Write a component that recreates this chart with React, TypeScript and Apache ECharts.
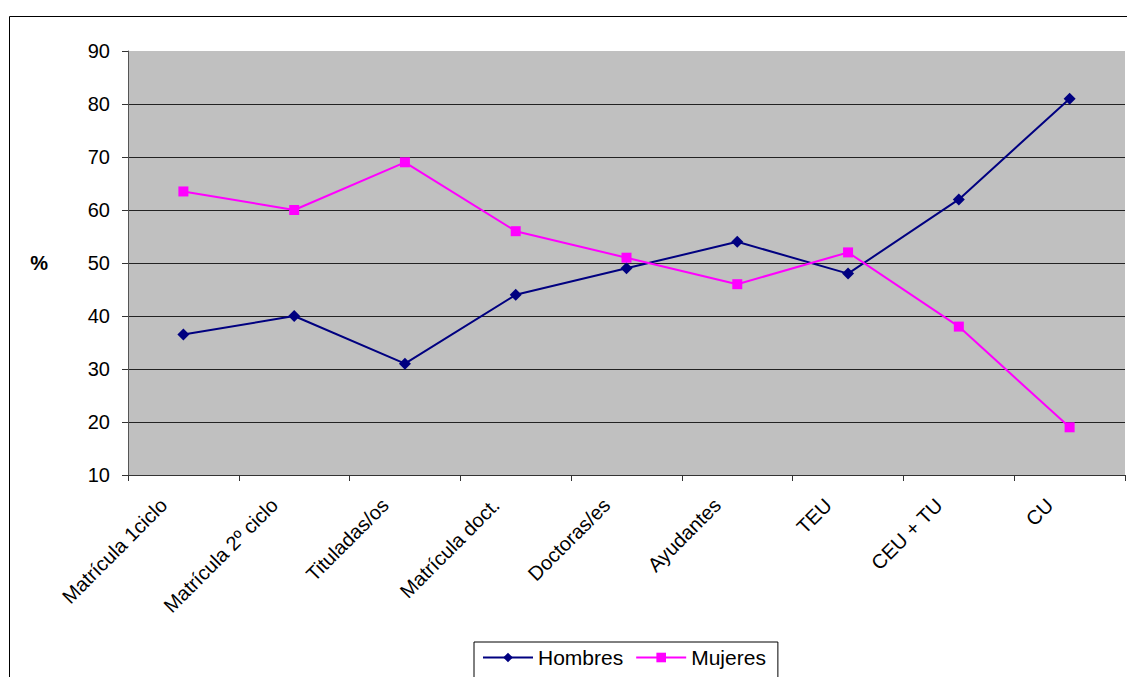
import React, { useEffect, useRef } from "react";
import * as echarts from "echarts";

const categories = [
  "Matrícula 1ciclo",
  "Matrícula 2º ciclo",
  "Tituladas/os",
  "Matrícula doct.",
  "Doctoras/es",
  "Ayudantes",
  "TEU",
  "CEU + TU",
  "CU",
];
const hombres = [36.5, 40, 31, 44, 49, 54, 48, 62, 81];
const mujeres = [63.5, 60, 69, 56, 51, 46, 52, 38, 19];
const yMin = 10;
const yMax = 90;
const yInterval = 10;

export default function App() {
  const ref = useRef<HTMLDivElement>(null);
  useEffect(() => {
    if (!ref.current) return;
    const chart = echarts.init(ref.current, undefined, { renderer: "svg" });
    const font = "'Liberation Sans', Arial, sans-serif";
    chart.setOption({
      animation: false,
      backgroundColor: "#ffffff",
      textStyle: { fontFamily: font, color: "#000" },
      graphic: [
        {
          type: "rect",
          shape: { x: 9.5, y: 16.5, width: 1300, height: 900 },
          style: { fill: "none", stroke: "#000", lineWidth: 1 },
          silent: true,
        },
      ],
      grid: {
        left: 128,
        top: 51,
        right: 2,
        bottom: 202,
        show: true,
        backgroundColor: "#C0C0C0",
        borderWidth: 0,
      },
      legend: {
        left: 474,
        top: 642,
        padding: [5, 12, 30, 8],
        borderColor: "#000",
        borderWidth: 1,
        itemWidth: 50,
        itemHeight: 12,
        itemGap: 12,
        textStyle: { fontFamily: font, fontSize: 21, color: "#000" },
        data: ["Hombres", "Mujeres"],
      },
      xAxis: {
        type: "category",
        data: categories,
        boundaryGap: true,
        axisLine: { show: true, lineStyle: { color: "#333", width: 1 } },
        axisTick: { show: true, length: 6, lineStyle: { color: "#333" } },
        axisLabel: {
          rotate: 45,
          fontSize: 20,
          color: "#000",
          fontFamily: font,
          margin: 7,
          padding: [0, 28, 0, 0],
          interval: 0,
        },
        splitLine: { show: false },
      },
      yAxis: {
        type: "value",
        min: yMin,
        max: yMax,
        interval: yInterval,
        name: "%",
        nameLocation: "middle",
        nameRotate: 0,
        nameGap: 80,
        nameTextStyle: { fontSize: 20, color: "#000", fontFamily: font, fontWeight: "bold" },
        axisLine: { show: true, lineStyle: { color: "#555", width: 1 } },
        axisTick: { show: true, length: 6, lineStyle: { color: "#333" } },
        axisLabel: { fontSize: 20, color: "#000", fontFamily: font, margin: 18 },
        splitLine: {
          show: true,
          lineStyle: {
            color: ["#222", "#222", "#222", "#222", "#222", "#222", "#222", "#222", "rgba(0,0,0,0)"],
            width: 1,
          },
        },
      },
      series: [
        {
          name: "Hombres",
          type: "line",
          data: hombres,
          symbol: "diamond",
          symbolSize: 12,
          lineStyle: { color: "#000080", width: 2 },
          itemStyle: { color: "#000080" },
        },
        {
          name: "Mujeres",
          type: "line",
          data: mujeres,
          symbol: "rect",
          symbolSize: 10,
          lineStyle: { color: "#FF00FF", width: 2 },
          itemStyle: { color: "#FF00FF" },
        },
      ],
    });
    return () => chart.dispose();
  }, []);
  return (
    <div
      ref={ref}
      style={{ position: "fixed", left: 0, top: 0, width: 1127, height: 677 }}
    />
  );
}
